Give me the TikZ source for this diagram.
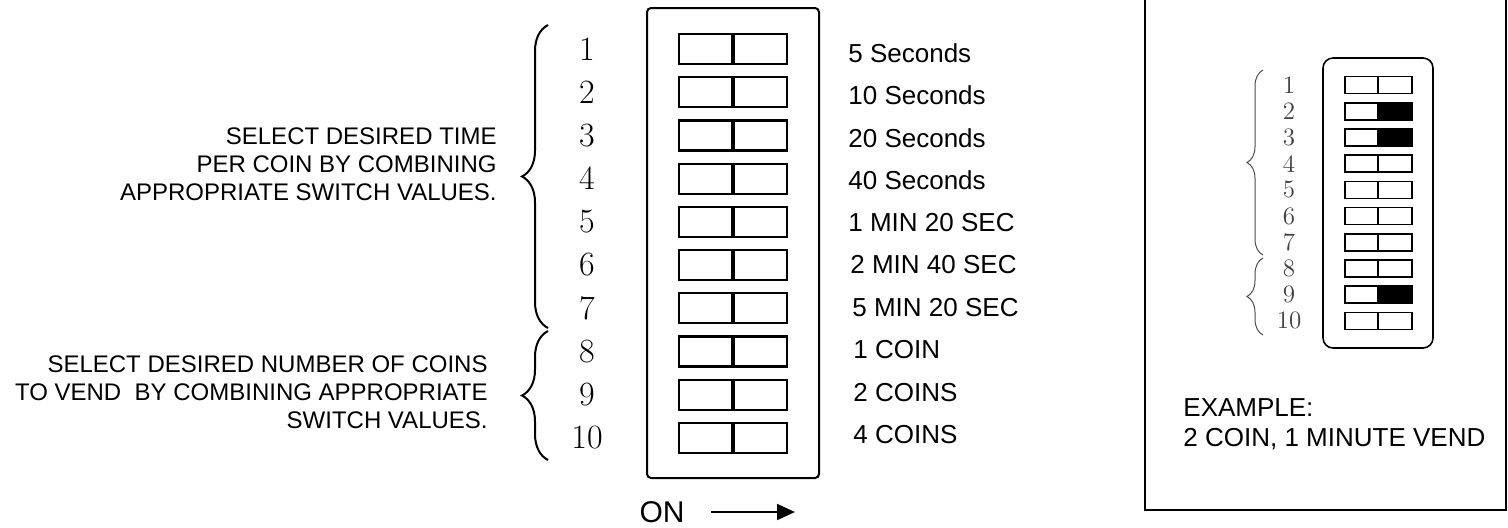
\documentclass[tikz,border=0pt]{standalone}
\usepackage{fontspec}
\newfontfamily\labelfont{Liberation Sans}
\usetikzlibrary{arrows.meta, decorations.pathreplacing, positioning}

\begin{document}
\begin{tikzpicture}[
    x=0.5pt, y=-0.5pt,
    label/.style={font=\labelfont\fontsize{13}{15}\selectfont, inner sep=0pt, anchor=west},
    note/.style={font=\labelfont\fontsize{12}{14}\selectfont, inner sep=0pt, align=right, anchor=east},
    swnum/.style={font=\fontsize{17}{17}\selectfont, inner sep=0pt},
    exnum/.style={font=\fontsize{12.5}{12.5}\selectfont, inner sep=0pt, black!75},
    swbox/.style={draw, line width=1.1pt},
    bigbrace/.style={decorate, decoration={brace, amplitude=13pt}, line width=1pt},
    smallbrace/.style={decorate, decoration={brace, amplitude=8pt}, line width=0.5pt, black!70}
]
\useasboundingbox (0,0) rectangle (1508,527);

% Notes on the left
\node[note] (timenote) at (497,164) {SELECT DESIRED TIME\\PER COIN BY COMBINING\\APPROPRIATE SWITCH VALUES.};
\node[note] (coinnote) at (488,392) {SELECT DESIRED NUMBER OF COINS\\TO VEND\ \ BY COMBINING APPROPRIATE\\SWITCH VALUES.};

% Braces
\draw[bigbrace] (548,328) -- (548,25);
\draw[bigbrace] (548,460) -- (548,331);

% DIP switch body
\draw[line width=1pt, rounded corners=2pt] (647,8) rectangle (819,478);

\foreach \i/\xx/\txt in {1/848/5 Seconds, 2/848/10 Seconds, 3/848/20 Seconds, 4/848/40 Seconds,
    5/848/1 MIN 20 SEC, 6/850/2 MIN 40 SEC, 7/852/5 MIN 20 SEC, 8/853/1 COIN, 9/853/2 COINS, 10/853/4 COINS} {
  \pgfmathsetmacro{\yy}{49+43.2*(\i-1)}
  \pgfmathsetmacro{\ly}{53+42.4*(\i-1)}
  \draw[swbox] (679,\yy-15) rectangle (787,\yy+15);
  \draw[line width=1.6pt] (733,\yy-15) -- (733,\yy+15);
  \node[swnum] (n\i) at (587,\yy) {\i};
  \node[label] (lbl\i) at (\xx,\ly) {\txt};
}

% ON direction
\node[font=\labelfont\fontsize{15}{15}\selectfont, inner sep=0pt] (on) at (662,512) {ON};
\coordinate (onend) at (795,512);
\draw[line width=0.9pt, -{Triangle[length=9pt, width=8pt]}] ([xshift=13pt]on.east) -- (onend);

% Example panel
\draw[line width=1pt] (1145,0) -- (1145,510) -- (1506,510) -- (1506,0);
\draw[line width=0.8pt, rounded corners=5pt] (1323,58) rectangle (1433,348);
\foreach \i in {1,...,10} {
  \pgfmathsetmacro{\yy}{85+26.2*(\i-1)}
  \draw[line width=0.8pt] (1345,\yy-8.5) rectangle (1412,\yy+8.5);
  \draw[line width=0.8pt] (1378,\yy-8.5) -- (1378,\yy+8.5);
  \node[exnum] (e\i) at (1289,\yy) {\i};
}
\foreach \i in {2,3,9} {
  \pgfmathsetmacro{\yy}{85+26.2*(\i-1)}
  \fill (1378,\yy-8.5) rectangle (1412,\yy+8.5);
}
\draw[smallbrace] (1263,255) -- (1263,70);
\draw[smallbrace] (1263,335) -- (1263,258);
\node[font=\labelfont\fontsize{13}{15}\selectfont, inner sep=0pt, align=left, anchor=west] (example) at (1183,424) {EXAMPLE:\\2 COIN, 1 MINUTE VEND};
\end{tikzpicture}
\end{document}
